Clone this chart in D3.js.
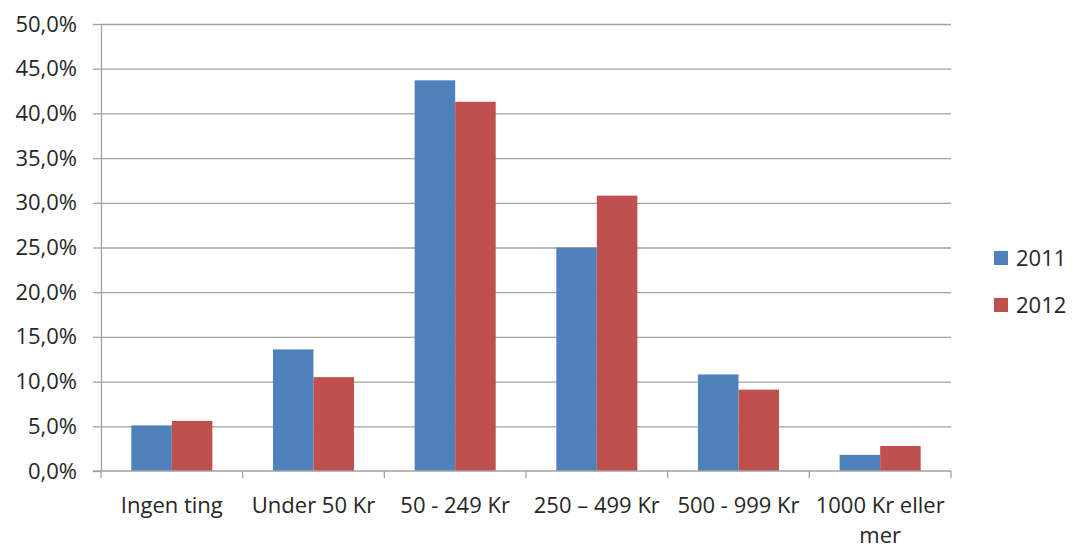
<!DOCTYPE html>
<html>
<head>
<meta charset="utf-8">
<script src="https://cdn.jsdelivr.net/npm/d3@7"></script>
<style>
  html, body { margin: 0; padding: 0; background: #fff; }
  svg text { font-family: "Open Sans", "Liberation Sans", sans-serif; fill: #262626; }
</style>
</head>
<body>
<svg id="chart" width="1073" height="548"></svg>
<script>
// Spending categories and share of respondents per year
const categories = ["Ingen ting", "Under 50 Kr", "50 - 249 Kr", "250 \u2013 499 Kr", "500 - 999 Kr", "1000 Kr eller mer"];
const seriesNames = ["2011", "2012"];
const values2011 = [0.051, 0.136, 0.437, 0.250, 0.108, 0.018];
const values2012 = [0.056, 0.105, 0.413, 0.308, 0.091, 0.028];
const yTicks = [0, 0.05, 0.10, 0.15, 0.20, 0.25, 0.30, 0.35, 0.40, 0.45, 0.50];
const colors = ["#4F81BD", "#C0504D"];

const seriesValues = [values2011, values2012];
const rows = categories.map((c, i) => ({ category: c, values: seriesNames.map((s, j) => ({ series: s, value: seriesValues[j][i] })) }));

const svg = d3.select("#chart");
const plotLeft = 101, plotRight = 951, plotTop = 24, plotBottom = 471;
const fontSize = 22;

const x = d3.scaleBand().domain(categories).range([plotLeft, plotRight]).padding(0);
const groupWidth = x.step() * 0.572;
const x1 = d3.scaleBand().domain(seriesNames).range([0, groupWidth]).padding(0);
const y = d3.scaleLinear().domain([0, 0.5]).range([plotBottom, plotTop]);
const color = d3.scaleOrdinal().domain(seriesNames).range(colors);

const locale = d3.formatLocale({ decimal: ",", thousands: ".", grouping: [3], currency: ["", " kr"] });
const pct = locale.format(".1%");

// Horizontal gridlines with short ticks left of the axis
const yAxis = d3.axisLeft(y).tickValues(yTicks).tickFormat(pct).tickSize(8).tickSizeOuter(0).tickPadding(16);
const gy = svg.append("g").attr("transform", `translate(${plotLeft},0)`).call(yAxis);
gy.select(".domain").attr("stroke", "#a0a0a0").attr("stroke-width", 1.3);
gy.selectAll(".tick line").attr("stroke", "#a0a0a0").attr("stroke-width", 1.3);
gy.selectAll(".tick text").attr("font-size", fontSize).attr("fill", "#262626")
  .attr("font-family", "'Open Sans', 'Liberation Sans', sans-serif");
gy.selectAll(".tick").filter(d => d > 0).append("line")
  .attr("x1", 0).attr("x2", plotRight - plotLeft)
  .attr("stroke", "#a0a0a0").attr("stroke-width", 1.3);

// Bars
const groups = svg.append("g").selectAll("g").data(rows).join("g")
  .attr("transform", d => `translate(${x(d.category) + (x.bandwidth() - groupWidth) / 2},0)`);
groups.selectAll("rect").data(d => d.values).join("rect")
  .attr("x", d => x1(d.series))
  .attr("width", x1.bandwidth())
  .attr("y", d => y(d.value))
  .attr("height", d => y(0) - y(d.value))
  .attr("fill", d => color(d.series));

// Category axis along zero, ticks at band boundaries
const gx = svg.append("g").attr("transform", `translate(0,${plotBottom})`);
gx.append("line").attr("x1", plotLeft - 8).attr("x2", plotRight).attr("stroke", "#a0a0a0").attr("stroke-width", 1.3);
const bounds = categories.map(c => x(c)).concat([plotRight]);
gx.selectAll("line.tick").data(bounds).join("line").attr("class", "tick")
  .attr("x1", d => d).attr("x2", d => d).attr("y1", 0).attr("y2", 7)
  .attr("stroke", "#a0a0a0").attr("stroke-width", 1.3);

const labels = gx.selectAll("text").data(categories).join("text")
  .attr("x", d => x(d) + x.bandwidth() / 2)
  .attr("y", 42)
  .attr("text-anchor", "middle")
  .attr("font-size", fontSize);

// Wrap labels that are wider than their band
labels.each(function (d) {
  const t = d3.select(this);
  const words = d.split(" ");
  const maxW = x.bandwidth() + 2;
  let line = [];
  let tspan = t.text(null).append("tspan").attr("x", t.attr("x")).attr("dy", 0);
  words.forEach(w => {
    line.push(w);
    tspan.text(line.join(" "));
    if (tspan.node().getComputedTextLength() > maxW && line.length > 1) {
      line.pop();
      tspan.text(line.join(" "));
      line = [w];
      tspan = t.append("tspan").attr("x", t.attr("x")).attr("dy", 30).text(w);
    }
  });
});

// Legend
const legend = svg.append("g").selectAll("g").data(seriesNames).join("g")
  .attr("transform", (d, i) => `translate(994,${258 + i * 47})`);
legend.append("rect").attr("x", 0).attr("y", -7).attr("width", 14).attr("height", 14).attr("fill", d => color(d));
legend.append("text").attr("x", 22).attr("y", 0).attr("dy", "0.35em").attr("font-size", fontSize).text(d => d);
</script>
</body>
</html>
